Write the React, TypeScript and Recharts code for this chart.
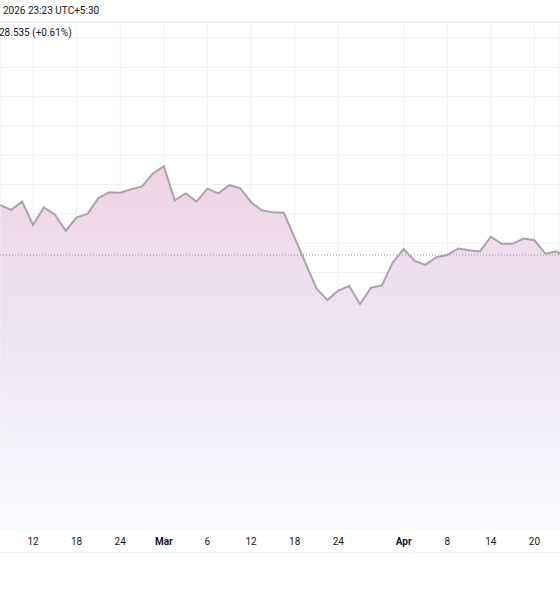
import React from 'react';
import { AreaChart, Area, XAxis, YAxis, CartesianGrid, ReferenceLine } from 'recharts';

// trading days shown in the pane (weekends and Apr 3 are not traded)
const dates = [
  'Feb 9', 'Feb 10', 'Feb 11', 'Feb 12', 'Feb 13', 'Feb 16', 'Feb 17', 'Feb 18', 'Feb 19', 'Feb 20',
  'Feb 23', 'Feb 24', 'Feb 25', 'Feb 26', 'Feb 27',
  'Mar 2', 'Mar 3', 'Mar 4', 'Mar 5', 'Mar 6', 'Mar 9', 'Mar 10', 'Mar 11', 'Mar 12', 'Mar 13',
  'Mar 16', 'Mar 17', 'Mar 18', 'Mar 19', 'Mar 20', 'Mar 23', 'Mar 24', 'Mar 25', 'Mar 26', 'Mar 27',
  'Mar 30', 'Mar 31',
  'Apr 1', 'Apr 2', 'Apr 6', 'Apr 7', 'Apr 8', 'Apr 9', 'Apr 10', 'Apr 13', 'Apr 14', 'Apr 15',
  'Apr 16', 'Apr 17', 'Apr 20', 'Apr 21', 'Apr 22', 'Apr 23',
];

const closes = [
  29.15, 29.07, 29.21, 28.81, 29.11, 28.99, 28.71, 28.94, 29.0, 29.27,
  29.37, 29.36, 29.42, 29.47, 29.69,
  29.81, 29.23, 29.35, 29.21, 29.43, 29.35, 29.49, 29.44, 29.2, 29.06,
  29.03, 29.02, 28.59, 28.16, 27.73, 27.53, 27.69, 27.77, 27.46, 27.74,
  27.78, 28.17,
  28.4, 28.2, 28.13, 28.26, 28.3, 28.41, 28.38, 28.36, 28.61, 28.49,
  28.49, 28.58, 28.55, 28.32, 28.36, 28.25,
];

const tickDates = ['Feb 12', 'Feb 18', 'Feb 24', 'Mar 2', 'Mar 6', 'Mar 12', 'Mar 18', 'Mar 24', 'Apr 1', 'Apr 8', 'Apr 14', 'Apr 20'];
const tickLabels = ['12', '18', '24', 'Mar', '6', '12', '18', '24', 'Apr', '8', '14', '20'];
const priceTicks = [24, 24.5, 25, 25.5, 26, 26.5, 27, 27.5, 28, 28.5, 29, 29.5, 30, 30.5, 31, 31.5, 32];
const prevClose = 28.3;

const data = closes.map((close, i) => ({ i, date: dates[i], close }));
const tickIdx = tickDates.map(d => dates.indexOf(d));

const FONT = '-apple-system, BlinkMacSystemFont, "Trebuchet MS", Roboto, Ubuntu, sans-serif';

const DateTick = (props: any) => {
  const { x, y, payload } = props;
  const label = tickLabels[tickIdx.indexOf(payload.value)];
  const month = label === 'Mar' || label === 'Apr';
  return (
    <text x={x} y={y + 15.5} textAnchor="middle" fontSize={10} fill="#131722" fontWeight={month ? 700 : 400} fontFamily={FONT}>
      {label}
    </text>
  );
};

export default function App() {
  return (
    <div style={{ position: 'absolute', left: 0, top: 0, width: 560, height: 600, background: '#fff', fontFamily: FONT, overflow: 'hidden' }}>
      <AreaChart width={560} height={552} data={data} margin={{ top: 22, right: 0, bottom: 0, left: 0 }}>
        <defs>
          <linearGradient id="areaFill" x1="0" y1="0" x2="0" y2="1">
            <stop offset="0%" stopColor="#edd3e4" />
            <stop offset="45%" stopColor="#ede5f2" />
            <stop offset="100%" stopColor="#f9faff" />
          </linearGradient>
        </defs>
        <CartesianGrid stroke="#eef0f3" />
        <XAxis
          dataKey="i"
          type="number"
          domain={[-0.027, 51.34]}
          allowDataOverflow
          ticks={tickIdx}
          interval={0}
          height={23}
          axisLine={false}
          tickLine={false}
          tickSize={0}
          tickMargin={0}
          tick={<DateTick />}
        />
        <YAxis hide type="number" domain={[23.6247, 32.2736]} allowDataOverflow ticks={priceTicks} />
        <Area
          type="linear"
          dataKey="close"
          stroke="#aaa4a9"
          strokeWidth={2}
          fill="url(#areaFill)"
          fillOpacity={1}
          isAnimationActive={false}
          dot={false}
          activeDot={false}
        />
        <ReferenceLine y={prevClose} stroke="#9598a1" strokeDasharray="1 2" strokeWidth={1} />
      </AreaChart>
      <div style={{ position: 'absolute', left: 0, top: 22, width: 560, borderTop: '1px solid #eef0f3' }} />
      <div style={{ position: 'absolute', left: 0, top: 552, width: 560, borderTop: '1px solid #eef0f3' }} />
      <div style={{ position: 'absolute', left: 3, top: 5, fontSize: 10, color: '#131722', whiteSpace: 'nowrap' }}>
        2026 23:23 UTC+5:30
      </div>
      <div style={{ position: 'absolute', left: -1, top: 27, fontSize: 10, color: '#131722', whiteSpace: 'nowrap' }}>
        28.535 (+0.61%)
      </div>
    </div>
  );
}
